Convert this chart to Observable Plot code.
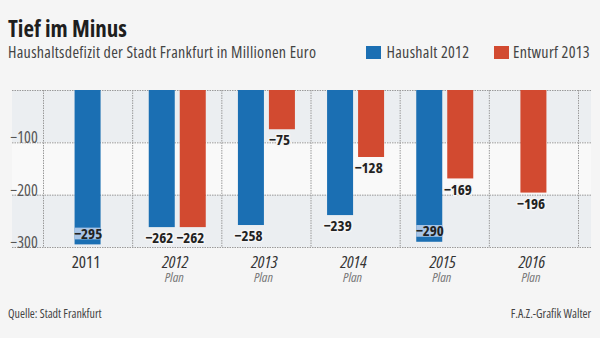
<!DOCTYPE html>
<html><head><meta charset="utf-8">
<script src="https://cdn.jsdelivr.net/npm/d3@7"></script>
<script src="https://cdn.jsdelivr.net/npm/@observablehq/plot@0.6"></script>
<style>
body{margin:0;background:#f5f5f5;}
#root{position:relative;width:600px;height:338px;overflow:hidden;font-family:"Open Sans",sans-serif;font-stretch:condensed;background:#f5f5f5;}
.t{position:absolute;line-height:1;white-space:nowrap;}
#title{left:8px;top:16.8px;font-size:23px;font-weight:bold;color:#1e1e1e;}
#subtitle{left:8px;top:44.3px;font-size:16px;letter-spacing:0.3px;color:#444;}
.sw{position:absolute;top:46px;width:15px;height:13px;}
.lg{top:44.3px;font-size:16px;letter-spacing:0.3px;color:#444;}
.foot{top:307.9px;font-size:12px;color:#444;}
#chart{position:absolute;left:0;top:70px;}
</style></head>
<body><div id="root">
<div class="t" id="title">Tief im Minus</div>
<div class="t" id="subtitle">Haushaltsdefizit der Stadt Frankfurt in Millionen Euro</div>
<div id="legend"></div>
<div id="chart"></div>
<div class="t foot" id="source" style="left:8px">Quelle: Stadt Frankfurt</div>
<div class="t foot" id="credit" style="right:9px">F.A.Z.-Grafik Walter</div>
</div>
<script>
const years = ["2011","2012","2013","2014","2015","2016"];
const planLabels = ["", "Plan", "Plan", "Plan", "Plan", "Plan"];
const haushalt2012 = [-295, -262, -258, -239, -290, null];
const entwurf2013 = [null, -262, -75, -128, -169, -196];
const seriesNames = ["Haushalt 2012", "Entwurf 2013"];
const seriesColors = ["#1b6fb3", "#d24a30"];
const yTickLabels = [-100, -200, -300];
const gridTicks = [0, -100, -200, -300];
const stripeBands = [[0, -100], [-200, -300]];

const fmt = d3.format("d");
const font = '"Open Sans",sans-serif';

// legend
const legend = document.getElementById("legend");
const legendX = [[366, 386.5], [494, 513]];
seriesNames.forEach((name, i) => {
  const sw = document.createElement("div");
  sw.className = "sw"; sw.style.left = legendX[i][0] + "px"; sw.style.background = seriesColors[i];
  legend.appendChild(sw);
  const t = document.createElement("div");
  t.className = "t lg"; t.style.left = legendX[i][1] + "px"; t.textContent = name;
  legend.appendChild(t);
});

const rows = [];
years.forEach((year, i) => {
  const vals = [haushalt2012[i], entwurf2013[i]];
  const both = vals.every(v => v != null);
  vals.forEach((v, s) => {
    if (v == null) return;
    rows.push({year, series: seriesNames[s], value: v,
      slot: both ? (s === 0 ? "left" : "right") : "single", inside: v < -280});
  });
});
const yearRows = years.map((y, i) => ({year: y, plan: planLabels[i]}));
const slotDx = {left: -15, right: 16, single: 0};
const bw = (578 - 43) / years.length;
const inset = (bw - 26) / 2;
const bg = "#f5f5f5";

const marks = [
  Plot.rect(stripeBands, {y1: d => d[0], y2: d => d[1], fill: "#ebeef1"}),
  Plot.rect([[-100, -200]], {y1: d => d[0], y2: d => d[1], fill: "#f9f9f9"}),
  Plot.ruleY(gridTicks, {stroke: "#9a9a9a", strokeDasharray: "1.5,1", strokeWidth: 1}),
  Plot.ruleX(years, {x: d => d, dx: -bw / 2, y1: 0, y2: -300, stroke: "#9a9a9a", strokeDasharray: "1.5,1"}),
  Plot.ruleX(years.slice(-1), {x: d => d, dx: bw / 2, y1: 0, y2: -300, stroke: "#9a9a9a", strokeDasharray: "1.5,1"})
];
for (const slot of ["left", "right", "single"]) {
  const sub = rows.filter(r => r.slot === slot);
  marks.push(Plot.barY(sub, {x: "year", y: "value", fill: "series", dx: slotDx[slot], insetLeft: inset, insetRight: inset}));
  marks.push(Plot.barY(sub.filter(r => r.inside), {x: "year", y1: "value", y2: d => d.value + 32, dx: slotDx[slot], insetLeft: inset, insetRight: inset, insetBottom: 5, fill: "#a9c5e6"}));
  marks.push(Plot.text(sub.filter(r => r.inside), {x: "year", y: "value", text: d => fmt(d.value), dx: slotDx[slot], dy: -6, lineAnchor: "bottom", fontSize: 15, fontWeight: "bold", fill: "#222"}));
  marks.push(Plot.text(sub.filter(r => !r.inside), {x: "year", y: "value", text: d => fmt(d.value), dx: slotDx[slot] - 3, dy: 5, lineAnchor: "top", fontSize: 15, fontWeight: "bold", fill: "#222", stroke: bg, strokeWidth: 3, paintOrder: "stroke"}));
}
marks.push(
  Plot.text(yTickLabels, {y: d => d, text: d => fmt(d), frameAnchor: "left", textAnchor: "start", lineAnchor: "bottom", dx: -2, dy: 0.5, fontSize: 16, fill: "#555"}),
  Plot.text(yearRows.filter(d => !d.plan), {x: "year", text: "year", frameAnchor: "bottom", lineAnchor: "bottom", dy: 20, dx: -2, fontSize: 17, fill: "#333"}),
  Plot.text(yearRows.filter(d => d.plan), {x: "year", text: "year", frameAnchor: "bottom", lineAnchor: "bottom", dy: 20, dx: -2, fontSize: 17, fontStyle: "italic", fill: "#333"}),
  Plot.text(yearRows.filter(d => d.plan), {x: "year", text: "plan", frameAnchor: "bottom", lineAnchor: "bottom", dy: 34.5, dx: -3, fontSize: 13.5, fontStyle: "italic", fill: "#777"})
);

const chart = Plot.plot({
  width: 600, height: 225,
  marginTop: 20, marginBottom: 48, marginLeft: 12, marginRight: 9,
  x: {type: "band", domain: years, range: [43, 578], padding: 0, round: false, axis: null},
  y: {domain: [-300, 0], axis: null},
  color: {domain: seriesNames, range: seriesColors},
  style: {background: "transparent", fontFamily: font, fontStretch: "condensed", overflow: "visible"},
  marks
});
document.getElementById("chart").appendChild(chart);
</script>
</body></html>
